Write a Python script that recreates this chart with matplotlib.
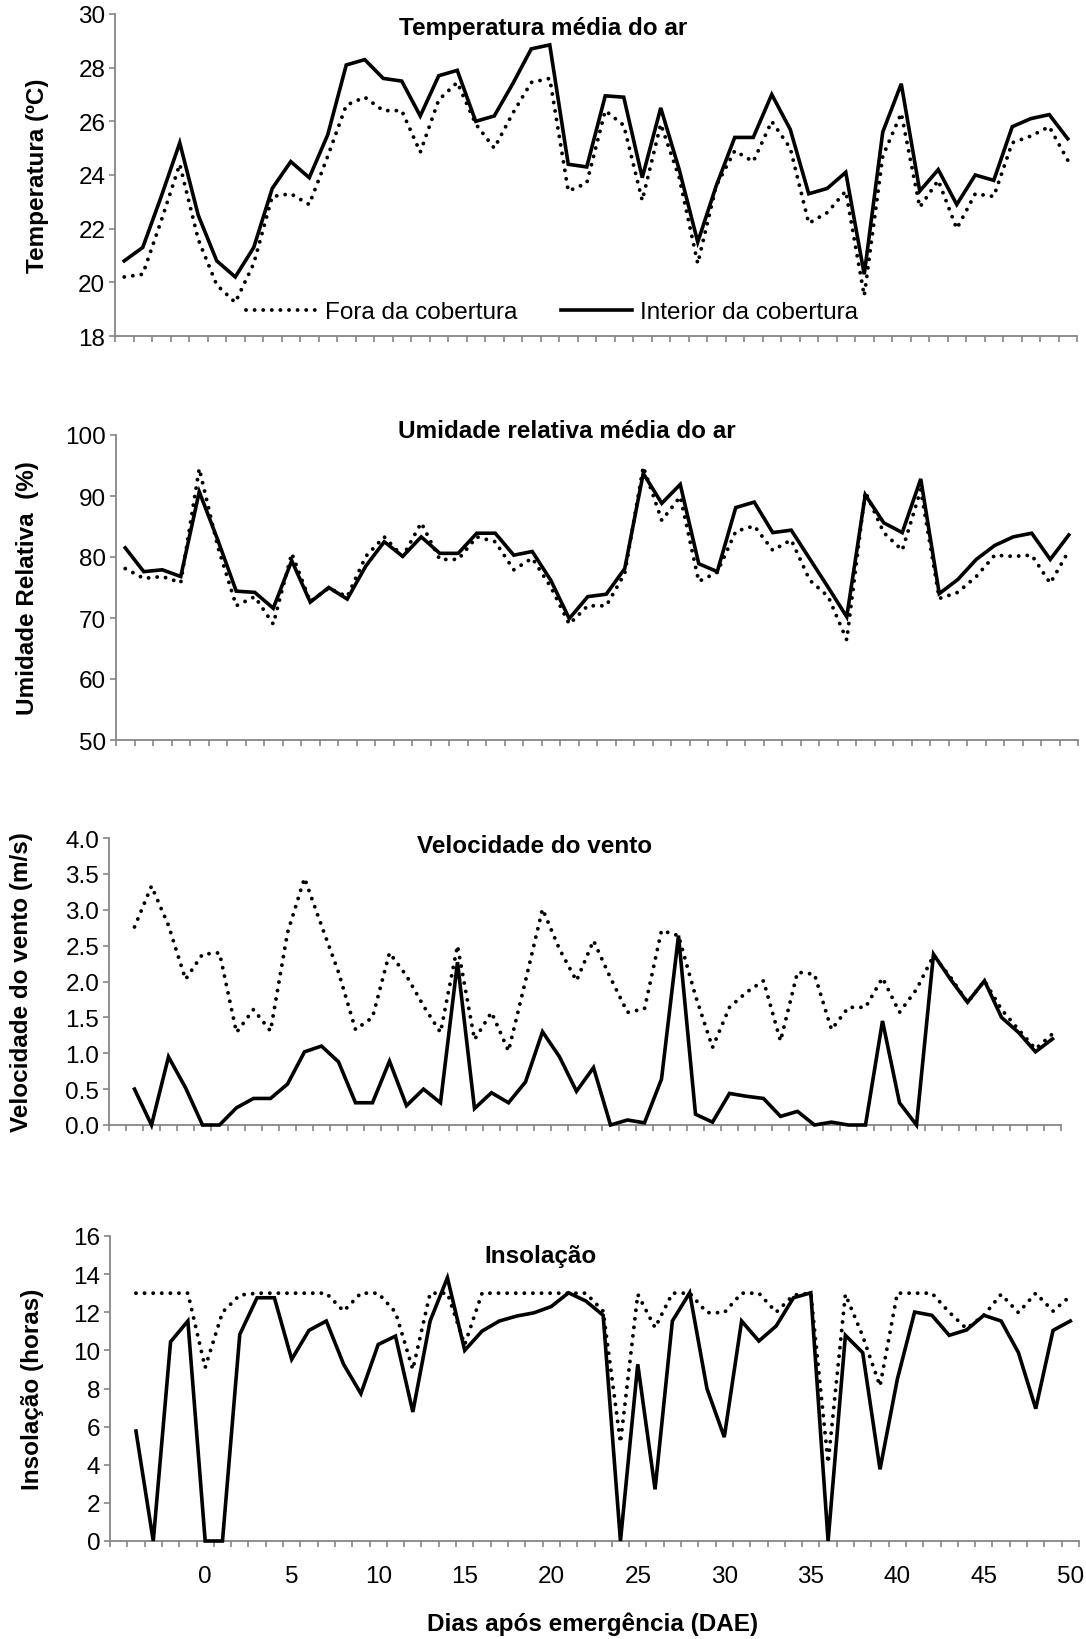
import numpy as np
import matplotlib
matplotlib.use("Agg")
import matplotlib.pyplot as plt
from matplotlib.ticker import FixedLocator, FormatStrFormatter

plt.rcParams["font.family"] = ["Liberation Sans", "DejaVu Sans"]

# temperatura e umidade: 52 dias (eixo sem rótulos)
temp_fora = [20.2, 20.3, 22.3, 24.4, 21.6, 19.9, 19.25, 20.7, 23.2, 23.3,
             22.9, 24.7, 26.6, 26.9, 26.4, 26.4, 24.85, 26.8, 27.45, 25.9,
             25.0, 26.3, 27.45, 27.6, 23.4, 23.7, 26.4, 25.85, 23.05, 25.9,
             23.9, 20.7, 23.6, 24.9, 24.5, 26.0, 25.0, 22.2, 22.6, 23.4,
             19.5, 24.7, 26.3, 22.8, 23.8, 22.0, 23.3, 23.2, 25.2, 25.45,
             25.8, 24.55]
temp_interior = [20.8, 21.3, 23.2, 25.2, 22.5, 20.8, 20.2, 21.3, 23.5, 24.5,
                 23.9, 25.5, 28.1, 28.3, 27.6, 27.5, 26.2, 27.7, 27.9, 26.0,
                 26.2, 27.4, 28.7, 28.85, 24.4, 24.3, 26.95, 26.9, 23.9, 26.5,
                 24.2, 21.5, 23.6, 25.4, 25.4, 27.0, 25.7, 23.3, 23.5, 24.1,
                 20.3, 25.6, 27.4, 23.4, 24.2, 22.9, 24.0, 23.8, 25.8, 26.1,
                 26.25, 25.35]
ur_fora = [78.1, 76.5, 76.8, 75.8, 94.5, 81.7, 72.0, 73.5, 69.0, 80.6,
           72.7, 74.9, 73.5, 80.1, 83.3, 80.1, 85.6, 79.6, 79.6, 83.3,
           82.5, 77.9, 79.8, 75.1, 69.0, 72.0, 72.0, 77.3, 94.8, 86.0,
           89.9, 76.0, 77.5, 84.2, 85.1, 81.1, 82.8, 76.2, 73.5, 66.4,
           90.7, 84.0, 81.1, 91.0, 73.2, 74.2, 76.8, 80.3, 80.1, 80.3,
           75.7, 81.0]
ur_interior = [81.5, 77.6, 77.9, 76.8, 90.7, 82.8, 74.4, 74.2, 71.6, 79.4,
               72.6, 75.0, 73.1, 78.5, 82.5, 80.1, 83.3, 80.6, 80.6, 83.9,
               83.9, 80.3, 80.9, 76.2, 69.9, 73.5, 73.9, 78.1, 93.7, 88.8,
               91.9, 78.9, 77.6, 88.1, 89.0, 84.0, 84.4, 79.7, 75.0, 70.2,
               90.2, 85.6, 84.0, 92.8, 74.0, 76.3, 79.6, 81.9, 83.3, 83.9,
               79.6, 83.6]

# vento e insolação: dias -4 a 50
dias = list(range(-4, 51))
vento_fora = [2.76, 3.33, 2.78, 2.03, 2.38, 2.40, 1.29, 1.61, 1.31, 2.68,
              3.44, 2.78, 2.13, 1.33, 1.50, 2.40, 2.08, 1.66, 1.29, 2.50,
              1.19, 1.57, 1.03, 2.01, 3.01, 2.45, 2.01, 2.57, 2.05, 1.57,
              1.62, 2.71, 2.64, 1.80, 1.08, 1.64, 1.85, 2.01, 1.17, 2.13,
              2.10, 1.33, 1.64, 1.64, 2.05, 1.57, 1.89, 2.36, 2.06, 1.71,
              2.01, 1.61, 1.33, 1.06, 1.27]
vento_interior = [0.50, 0.0, 0.95, 0.52, 0.0, 0.0, 0.24, 0.37, 0.37, 0.57,
                  1.02, 1.10, 0.88, 0.31, 0.31, 0.89, 0.27, 0.50, 0.31, 2.27,
                  0.23, 0.45, 0.31, 0.60, 1.30, 0.95, 0.47, 0.80, 0.0, 0.07,
                  0.03, 0.64, 2.64, 0.15, 0.04, 0.44, 0.40, 0.37, 0.12, 0.19,
                  0.0, 0.04, 0.0, 0.0, 1.45, 0.31, 0.0, 2.38, 2.03, 1.71,
                  2.01, 1.50, 1.29, 1.02, 1.20]
insol_fora = [13, 13, 13, 13, 9.1, 12.0, 12.9, 13, 13, 13,
              13, 13, 12.06, 13, 13, 12.0, 9.0, 13, 13, 10.3,
              13, 13, 13, 13, 13, 13, 13, 12.06, 5.16, 12.94,
              11.19, 13, 13, 11.98, 11.98, 13, 13, 12.0, 12.9, 13,
              4.1, 12.94, 10.75, 8.13, 13, 13, 13, 12.0, 11.14, 11.84,
              12.94, 11.98, 13, 12.06, 12.85]
insol_interior = [5.77, 0, 10.45, 11.54, 0, 0, 10.84, 12.76, 12.76, 9.53,
                  11.05, 11.54, 9.27, 7.73, 10.31, 10.75, 6.77, 11.54, 13.81, 10.0,
                  11.01, 11.54, 11.8, 11.97, 12.3, 13.02, 12.59, 11.84, 0, 9.27,
                  2.71, 11.54, 13.02, 7.99, 5.45, 11.54, 10.49, 11.28, 12.76, 13.02,
                  0, 10.79, 9.88, 3.76, 8.48, 12.01, 11.84, 10.79, 11.07, 11.84,
                  11.54, 9.88, 6.94, 11.05, 11.54]

W, H = 1086, 1640
fig = plt.figure(figsize=(W / 100, H / 100), dpi=100)
cinza = "#868686"
fs = 17.5

# (esquerda, topo, direita, base) em pixels
paineis = [
    dict(box=(115, 15, 1077, 337), x=list(range(len(temp_fora))), xlim=(-0.5, 51.5),
         fora=temp_fora, dentro=temp_interior, ylim=(18, 30), step=2, fmt="%d",
         titulo="Temperatura média do ar", tpos=(543, 28),
         ylabel="Temperatura (ºC)", lx=38),
    dict(box=(116, 436, 1078, 741), x=list(range(len(ur_fora))), xlim=(-0.5, 51.5),
         fora=ur_fora, dentro=ur_interior, ylim=(50, 100), step=10, fmt="%d",
         titulo="Umidade relativa média do ar", tpos=(567, 432),
         ylabel="Umidade Relativa  (%)", lx=28),
    dict(box=(109, 839, 1061, 1126), x=dias, xlim=(-5.5, 50.5),
         fora=vento_fora, dentro=vento_interior, ylim=(0, 4), step=0.5, fmt="%.1f",
         titulo="Velocidade do vento", tpos=(535, 847),
         ylabel="Velocidade do vento (m/s)", lx=22),
    dict(box=(110, 1237, 1079, 1542), x=dias, xlim=(-5.5, 50.5),
         fora=insol_fora, dentro=insol_interior, ylim=(0, 16), step=2, fmt="%d",
         titulo="Insolação", tpos=(540, 1257),
         ylabel="Insolação (horas)", lx=33),
]

for i, p in enumerate(paineis):
    l, t, r, b = p["box"]
    ax = fig.add_axes([l / W, 1 - b / H, (r - l) / W, (b - t) / H])
    lf, = ax.plot(p["x"], p["fora"], color="black", lw=2.8,
                  ls=(0, (0.01, 2.2)), dash_capstyle="round",
                  clip_on=False, zorder=3, label="Fora da cobertura")
    ld, = ax.plot(p["x"], p["dentro"], color="black", lw=2.6,
                  solid_joinstyle="miter", clip_on=False, zorder=4,
                  label="Interior da cobertura")
    ax.set_xlim(*p["xlim"])
    ax.set_ylim(*p["ylim"])
    ax.yaxis.set_major_locator(FixedLocator(np.arange(p["ylim"][0], p["ylim"][1] + p["step"] / 2, p["step"])))
    ax.yaxis.set_major_formatter(FormatStrFormatter(p["fmt"]))
    for s in ["top", "right"]:
        ax.spines[s].set_visible(False)
    for s in ["left", "bottom"]:
        ax.spines[s].set_color(cinza)
        ax.spines[s].set_linewidth(1.3)
    ax.tick_params(axis="y", which="major", direction="out", length=4, width=1.2,
                   color=cinza, labelsize=fs, pad=3)
    ax.xaxis.set_minor_locator(FixedLocator(np.arange(p["xlim"][0], p["xlim"][1] + 0.5, 1)))
    ax.tick_params(axis="x", which="minor", direction="out", length=4, width=1.2, color=cinza)
    if i == 3:
        ax.xaxis.set_major_locator(FixedLocator(range(0, 51, 5)))
        ax.tick_params(axis="x", which="major", length=0, labelsize=fs, pad=17)
    else:
        ax.xaxis.set_major_locator(FixedLocator([]))
    fig.text(p["tpos"][0] / W, 1 - p["tpos"][1] / H, p["titulo"], ha="center",
             va="center", fontsize=fs, fontweight="bold")
    fig.text(p["lx"] / W, 1 - (t + b) / 2 / H, p["ylabel"], rotation=90,
             ha="center", va="center", fontsize=fs, fontweight="bold")
    if i == 0:
        fig.legend(handles=[lf, ld], loc="center", ncol=2, frameon=False,
                   bbox_to_anchor=(552 / W, 1 - 313 / H), fontsize=fs,
                   handlelength=2.9, handletextpad=0.35, columnspacing=1.8,
                   borderpad=0, borderaxespad=0)

fig.text(593 / W, 1 - 1624 / H, "Dias após emergência (DAE)", ha="center",
         va="center", fontsize=fs, fontweight="bold")

fig.savefig("out.png", dpi=100)
